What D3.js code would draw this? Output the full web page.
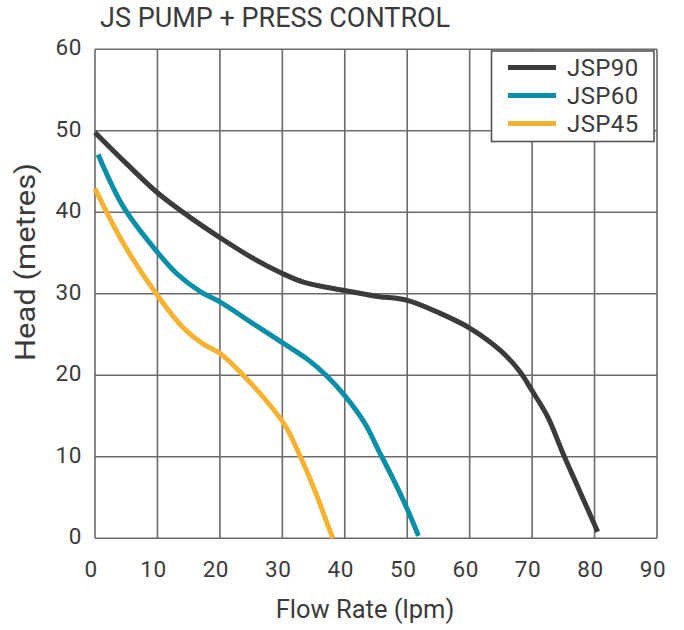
<!DOCTYPE html>
<html lang="en">
<head>
    <meta charset="UTF-8">
    <title>JS pump curves</title>
    <script src="https://d3js.org/d3.v7.min.js"></script>
<style>
    body{
        margin: 0;
        background: #fff;
    }
    text{
        font-family: Roboto, sans-serif;
        fill: #3b3b3b;
    }
    .tick-label{
        font-size: 22.5px;
        letter-spacing: 0.6px;
    }
    .grid line{
        stroke: #6a6a6a;
        stroke-width: 1.6;
    }
</style>
</head>
<body>
<div id="fig"></div>
<script>
    // values
    let xTicks = [0, 10, 20, 30, 40, 50, 60, 70, 80, 90]
    let yTicks = [0, 10, 20, 30, 40, 50, 60]

    let jsp90Flow = [0, 5, 10, 15, 20, 25, 30, 33.5, 40, 45, 50, 55, 60, 65, 68, 70, 72.5, 75, 77.5, 80.5]
    let jsp90Head = [49.8, 46, 42.4, 39.5, 36.9, 34.5, 32.5, 31.4, 30.4, 29.7, 29.2, 27.7, 25.8, 23, 20.5, 18.1, 14.9, 10.3, 6, 0.8]

    let jsp60Flow = [0.5, 4.6, 10, 13.2, 17, 20, 25, 30, 34.3, 37, 40, 43.3, 45.4, 47.6, 50, 51.8]
    let jsp60Head = [47.1, 40.6, 35.1, 32.4, 30.2, 29, 26.5, 24, 21.8, 20, 17.5, 14, 10.8, 7.5, 3.6, 0.3]

    let jsp45Flow = [0, 4.6, 10, 14.3, 17.6, 20, 24, 27.3, 30.4, 32.9, 35.4, 37, 38.1]
    let jsp45Head = [42.9, 36.1, 29.8, 25.7, 23.7, 22.7, 19.8, 17, 13.9, 10, 5.5, 2.2, 0]

    let seriesNames = ["JSP90", "JSP60", "JSP45"]
    let seriesColors = ["#3b3b3b", "#0a8fa8", "#f6b231"]

    let w = 684, h = 630
    let svg = d3.select("#fig").append("svg")
        .attr("width", w)
        .attr("height", h)

    let xScale = d3.scaleLinear().domain([0, 90]).range([95, 657])
    let yScale = d3.scaleLinear().domain([0, 60]).range([538.3, 49.3])

    // grid
    let grid = svg.append("g").attr("class", "grid")
    grid.selectAll(".vline")
        .data(xTicks)
        .enter()
        .append("line")
        .attr("x1", d => xScale(d)).attr("x2", d => xScale(d))
        .attr("y1", yScale(60)).attr("y2", yScale(0))
    grid.selectAll(".hline")
        .data(yTicks)
        .enter()
        .append("line")
        .attr("x1", xScale(0)).attr("x2", xScale(90))
        .attr("y1", d => yScale(d)).attr("y2", d => yScale(d))

    // tick labels
    svg.selectAll(".xlab")
        .data(xTicks)
        .enter()
        .append("text")
        .attr("class", "tick-label")
        .attr("x", d => xScale(d) - 4)
        .attr("y", 577)
        .attr("text-anchor", "middle")
        .text(d => d)

    svg.selectAll(".ylab")
        .data(yTicks)
        .enter()
        .append("text")
        .attr("class", "tick-label")
        .attr("x", 82)
        .attr("y", d => yScale(d) - 2)
        .attr("dy", "0.36em")
        .attr("text-anchor", "end")
        .text(d => d)

    // curves
    let lineGen = d3.line()
        .x(d => xScale(d[0]))
        .y(d => yScale(d[1]))
        .curve(d3.curveCatmullRom.alpha(0.5))

    let series = [
        d3.zip(jsp90Flow, jsp90Head),
        d3.zip(jsp60Flow, jsp60Head),
        d3.zip(jsp45Flow, jsp45Head)
    ]

    svg.selectAll(".curve")
        .data(series)
        .enter()
        .append("path")
        .attr("d", lineGen)
        .attr("fill", "none")
        .attr("stroke", (d, i) => seriesColors[i])
        .attr("stroke-width", 5)

    // legend
    let legend = svg.append("g")
    legend.append("rect")
        .attr("x", 491.5).attr("y", 51)
        .attr("width", 162.5).attr("height", 90.5)
        .attr("fill", "#fff")
        .attr("stroke", "#555")
        .attr("stroke-width", 1.6)
    seriesNames.forEach(function (name, i) {
        let ly = 67.5 + i * 28
        legend.append("line")
            .attr("x1", 508).attr("x2", 556)
            .attr("y1", ly).attr("y2", ly)
            .attr("stroke", seriesColors[i])
            .attr("stroke-width", 5)
        legend.append("text")
            .attr("x", 567)
            .attr("y", ly)
            .attr("dy", "0.36em")
            .style("font-size", "24px")
            .style("letter-spacing", "0.4px")
            .text(name)
    })

    // titles
    svg.append("text")
        .attr("x", 100).attr("y", 27)
        .style("font-size", "27px")
        .text("JS PUMP + PRESS CONTROL")

    svg.append("text")
        .attr("x", 365).attr("y", 618)
        .attr("text-anchor", "middle")
        .style("font-size", "25.5px")
        .text("Flow Rate (lpm)")

    svg.append("text")
        .attr("transform", "translate(35,262) rotate(-90)")
        .attr("text-anchor", "middle")
        .attr("textLength", 198)
        .attr("lengthAdjust", "spacingAndGlyphs")
        .style("font-size", "27.5px")
        .text("Head (metres)")
</script>
</body>
</html>
